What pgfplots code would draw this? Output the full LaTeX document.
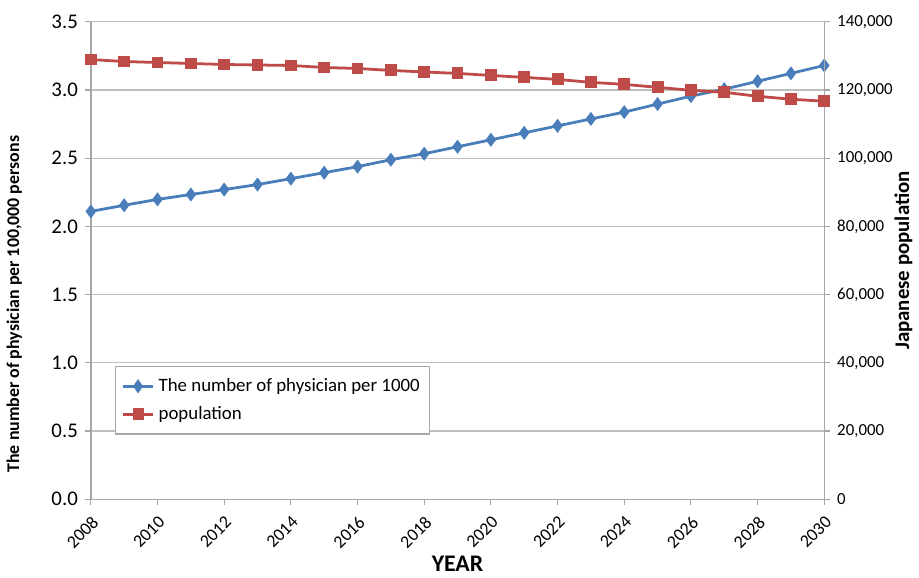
\documentclass[border=0pt]{standalone}
\usepackage{pgfplots}
\pgfplotsset{compat=1.18}
\usepackage{fontspec}
\setmainfont{Carlito}
\definecolor{phyblue}{HTML}{4A7EBB}
\definecolor{popred}{HTML}{BE4B48}
\definecolor{gridgray}{HTML}{BFBFBF}
\definecolor{axisgray}{HTML}{A6A6A6}

\begin{document}
\begin{tikzpicture}
% left axis: physicians
\begin{axis}[
	scale only axis,
	width=369.5pt, height=240.5pt,
	xmin=2008, xmax=2030,
	ymin=0, ymax=3.5,
	xtick={2008,2010,...,2030},
	xticklabels={2008,2010,2012,2014,2016,2018,2020,2022,2024,2026,2028,2030},
	ytick={0,0.5,...,3.5},
	yticklabels={0.0,0.5,1.0,1.5,2.0,2.5,3.0,3.5},
	axis x line*=bottom,
	axis y line*=left,
	axis line style={axisgray, line width=0.7pt},
	tick style={axisgray, line width=0.6pt},
	tick align=outside,
	major tick length=3pt,
	ymajorgrids,
	grid style={gridgray, line width=0.6pt},
	xticklabel style={rotate=45, anchor=north east, font=\fontsize{9}{10}\selectfont},
	yticklabel style={font=\fontsize{10.5}{12}\selectfont},
	xlabel={\textbf{YEAR}},
	xlabel style={font=\fontsize{12}{14}\selectfont, yshift=5pt},
	ylabel={\textbf{The number of physician per 100,000 persons}},
	ylabel style={font=\fontsize{9}{10}\selectfont, yshift=8pt, xshift=-22pt},
]
\addplot[phyblue, line width=1.4pt, mark=diamond*, mark size=2.4pt, mark options={fill=phyblue, draw=phyblue}] coordinates {
(2008,2.11) (2009,2.155) (2010,2.198) (2011,2.234) (2012,2.27) (2013,2.307)
(2014,2.35) (2015,2.394) (2016,2.438) (2017,2.489) (2018,2.533) (2019,2.584)
(2020,2.635) (2021,2.686) (2022,2.737) (2023,2.788) (2024,2.838) (2025,2.897)
(2026,2.955) (2027,3.006) (2028,3.064) (2029,3.122) (2030,3.18)
};
\end{axis}
% right axis: population
\begin{axis}[
	scale only axis,
	width=369.5pt, height=240.5pt,
	xmin=2008, xmax=2030,
	ymin=0, ymax=140000,
	ytick={0,20000,40000,60000,80000,100000,120000,140000},
	yticklabels={0,{20,000},{40,000},{60,000},{80,000},{100,000},{120,000},{140,000}},
	axis x line=none,
	axis y line*=right,
	axis line style={axisgray, line width=0.7pt},
	tick style={axisgray, line width=0.6pt},
	tick align=outside,
	major tick length=3pt,
	scaled y ticks=false,
	yticklabel style={font=\fontsize{8.5}{10}\selectfont},
	ylabel={\textbf{Japanese population}},
	ylabel style={font=\fontsize{10.5}{12}\selectfont, yshift=6pt},
	legend style={at={(0.0325,0.28)}, anchor=north west, draw=axisgray, line width=0.8pt,
		font=\fontsize{9.5}{11}\selectfont, row sep=2pt, inner xsep=3pt, inner ysep=4pt},
	legend cell align=left,
	legend image post style={xscale=0.9},
]
\addlegendimage{phyblue, line width=1.4pt, mark=diamond*, mark size=2.4pt, mark options={fill=phyblue, draw=phyblue}}
\addlegendentry{The number of physician per 1000}
\addplot[popred, line width=1.4pt, mark=square*, mark size=2.3pt, mark options={fill=popred, draw=popred}] coordinates {
(2008,128940) (2009,128360) (2010,128070) (2011,127780) (2012,127490) (2013,127340)
(2014,127200) (2015,126610) (2016,126320) (2017,125740) (2018,125300) (2019,124870)
(2020,124280) (2021,123700) (2022,123120) (2023,122250) (2024,121660) (2025,120790)
(2026,119920) (2027,119330) (2028,118170) (2029,117300) (2030,116710)
};
\addlegendentry{population}
\end{axis}
\path (current axis.north) ++(0,11pt);
\end{tikzpicture}
\end{document}
